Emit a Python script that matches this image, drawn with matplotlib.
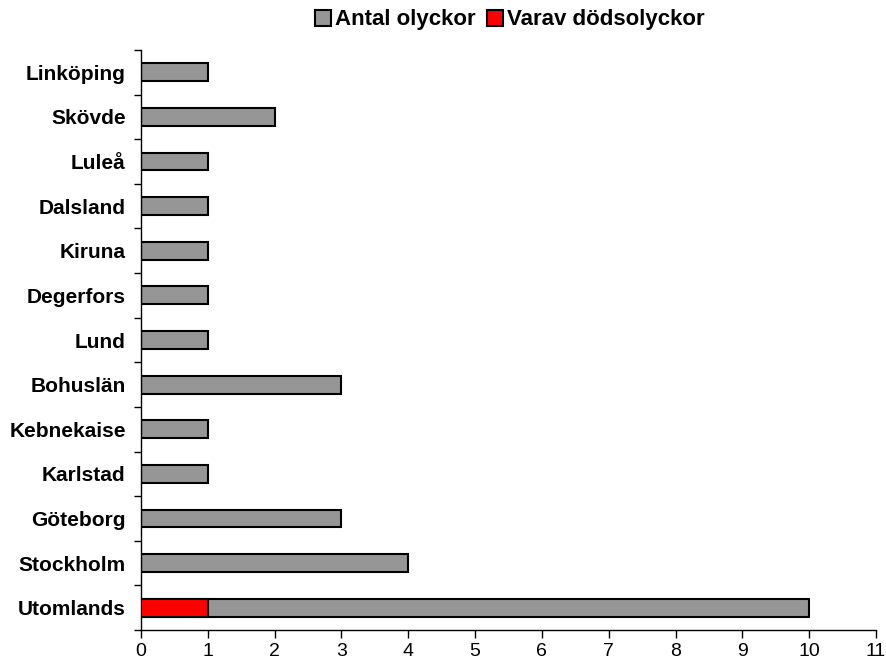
import matplotlib
matplotlib.use("Agg")
import matplotlib.pyplot as plt
from matplotlib.patches import Patch
import numpy as np

categories = ["Utomlands", "Stockholm", "Göteborg", "Karlstad", "Kebnekaise", "Bohuslän",
              "Lund", "Degerfors", "Kiruna", "Dalsland", "Luleå", "Skövde", "Linköping"]
antal = [10, 4, 3, 1, 1, 3, 1, 1, 1, 1, 1, 2, 1]
dod = [1, 0, 0, 0, 0, 0, 0, 0, 0, 0, 0, 0, 0]
xticks = list(range(0, 12))

plt.rcParams['font.family'] = ['Liberation Sans', 'DejaVu Sans']

fig = plt.figure(figsize=(8.87, 6.68), dpi=100)
ax = fig.add_axes([141/887, 38/668, (876-141)/887, (630-50)/668])

y = np.arange(len(categories))
ax.barh(y, antal, height=0.4, color="#969696", edgecolor="black", linewidth=1.5, zorder=2)
for i, v in enumerate(dod):
    if v > 0:
        ax.barh(y[i], v, height=0.4, color="#ff0000", edgecolor="black", linewidth=1.5, zorder=3)

ax.set_xlim(0, 11)
ax.set_ylim(-0.5, len(categories) - 0.5)
ax.set_xticks(xticks)
ax.set_xticklabels([str(t) for t in xticks], fontsize=14)
ax.set_yticks(y)
ax.set_yticklabels(categories, fontsize=15, fontweight="bold")
ax.set_yticks(np.arange(-0.5, len(categories), 1.0), minor=True)
ax.tick_params(axis="y", which="major", length=0, pad=11)
ax.tick_params(axis="y", which="minor", length=5, direction="out", width=1, color="#000000")
ax.tick_params(axis="x", which="major", length=6, direction="out", width=1, pad=3)
for s in ["top", "right"]:
    ax.spines[s].set_visible(False)
for s in ["left", "bottom"]:
    ax.spines[s].set_linewidth(1)

handles = [Patch(facecolor="#969696", edgecolor="black", linewidth=1.5, label="Antal olyckor"),
           Patch(facecolor="#ff0000", edgecolor="black", linewidth=1.5, label="Varav dödsolyckor")]
fig.legend(handles=handles, loc="center", bbox_to_anchor=(510/887, 1 - 20/668), ncol=2,
           frameon=False, prop={"weight": "bold", "size": 16}, handlelength=0.7,
           handleheight=0.7, handletextpad=0.2, columnspacing=0.5)

fig.savefig("out.png", dpi=100)
